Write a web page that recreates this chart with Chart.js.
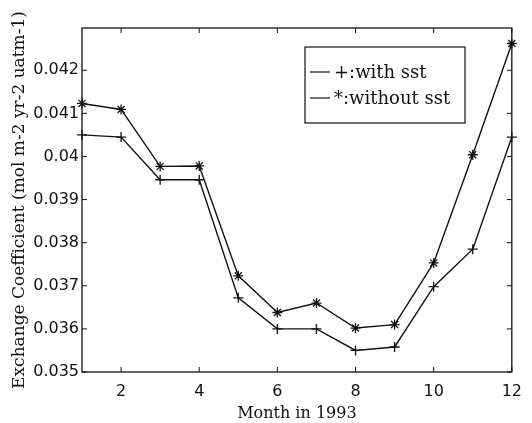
<!DOCTYPE html>
<html>
<head>
<meta charset="utf-8">
<script src="https://cdn.jsdelivr.net/npm/chart.js@4.4.1/dist/chart.umd.min.js"></script>
<style>
  html, body { margin: 0; padding: 0; background: #fff; }
  canvas { display: block; }
</style>
</head>
<body>
<canvas id="chart" width="532" height="423"></canvas>
<script>
'use strict';

// values
const months = [1, 2, 3, 4, 5, 6, 7, 8, 9, 10, 11, 12];
const withSst = [0.0405, 0.04045, 0.03946, 0.03946, 0.03672, 0.0360, 0.0360, 0.0355, 0.03558, 0.03698, 0.03785, 0.04045];
const withoutSst = [0.04123, 0.04109, 0.03977, 0.03978, 0.03723, 0.03638, 0.0366, 0.03602, 0.0361, 0.03753, 0.04004, 0.04262];

const xTicks = [2, 4, 6, 8, 10, 12];
const yTicks = [0.035, 0.036, 0.037, 0.038, 0.039, 0.04, 0.041, 0.042];
const legendLabels = ['+:with sst', '*:without sst'];

const ink = '#111';
const tickFont = { family: 'DejaVu Sans', size: 16 };
const titleFont = { family: 'DejaVu Serif', size: 16 };

function toPoints(ys) {
    return months.map((m, i) => ({ x: m, y: ys[i] }));
}

// matlab style box, inward ticks on all sides and the legend in the corner
const matlabBox = {
    id: 'matlabBox',
    afterDatasetsDraw(chart) {
        const ctx = chart.ctx;
        const { left, right, top, bottom } = chart.chartArea;
        const xs = chart.scales.x, ys = chart.scales.y;
        ctx.save();
        ctx.strokeStyle = ink;
        ctx.lineWidth = 1.3;
        ctx.strokeRect(left, top, right - left, bottom - top);
        ctx.lineWidth = 1;
        ctx.beginPath();
        xTicks.forEach(v => {
            const px = xs.getPixelForValue(v);
            ctx.moveTo(px, bottom); ctx.lineTo(px, bottom - 5);
            ctx.moveTo(px, top); ctx.lineTo(px, top + 5);
        });
        yTicks.forEach(v => {
            const py = ys.getPixelForValue(v);
            ctx.moveTo(left, py); ctx.lineTo(left + 5, py);
            ctx.moveTo(right, py); ctx.lineTo(right - 5, py);
        });
        ctx.stroke();

        // legend
        ctx.lineWidth = 1.2;
        ctx.strokeRect(305, 47, 160, 76);
        ctx.font = '18px "DejaVu Serif"';
        ctx.fillStyle = ink;
        ctx.textBaseline = 'middle';
        legendLabels.forEach((label, i) => {
            const y = 73 + i * 26;
            ctx.beginPath();
            ctx.moveTo(310, y - 1);
            ctx.lineTo(330, y - 1);
            ctx.stroke();
            ctx.fillText(label, 334, y);
        });
        ctx.restore();
    }
};

let config = {
    type: 'line',
    data: {
        datasets: [{
            label: legendLabels[0],
            data: toPoints(withSst),
            borderColor: ink,
            borderWidth: 1.4,
            pointStyle: 'cross',
            pointRadius: 5,
            pointBorderWidth: 1.3,
            pointBorderColor: ink,
            fill: false,
            tension: 0,
            clip: false
        }, {
            label: legendLabels[1],
            data: toPoints(withoutSst),
            borderColor: ink,
            borderWidth: 1.4,
            pointStyle: 'star',
            pointRadius: 5,
            pointBorderWidth: 1.3,
            pointBorderColor: ink,
            fill: false,
            tension: 0,
            clip: false
        }]
    },
    options: {
        responsive: false,
        animation: false,
        devicePixelRatio: 1,
        layout: {
            padding: { left: 0, right: 20, top: 28, bottom: 0 }
        },
        plugins: {
            legend: { display: false },
            tooltip: { enabled: false }
        },
        scales: {
            x: {
                type: 'linear',
                min: 1,
                max: 12,
                grid: { display: false, drawTicks: false },
                border: { display: false },
                afterBuildTicks: s => { s.ticks = xTicks.map(v => ({ value: v })); },
                afterFit: s => { s.height = 51; },
                ticks: {
                    color: ink,
                    font: tickFont,
                    padding: 10,
                    maxRotation: 0
                },
                title: {
                    display: true,
                    text: 'Month in 1993',
                    color: ink,
                    font: titleFont,
                    padding: { top: 0, bottom: 0 }
                }
            },
            y: {
                min: 0.035,
                max: 0.04298,
                grid: { display: false, drawTicks: false },
                border: { display: false },
                afterBuildTicks: s => { s.ticks = yTicks.map(v => ({ value: v })); },
                afterFit: s => { s.width = 82; },
                ticks: {
                    color: ink,
                    font: tickFont,
                    padding: 3,
                    callback: v => String(+v.toFixed(3))
                },
                title: {
                    display: true,
                    text: 'Exchange Coefficient (mol m-2 yr-2 uatm-1)',
                    color: ink,
                    font: { family: 'DejaVu Serif', size: 17 },
                    padding: { top: 9, bottom: 0 }
                }
            }
        }
    },
    plugins: [matlabBox]
};

new Chart(document.getElementById('chart'), config);
</script>
</body>
</html>
